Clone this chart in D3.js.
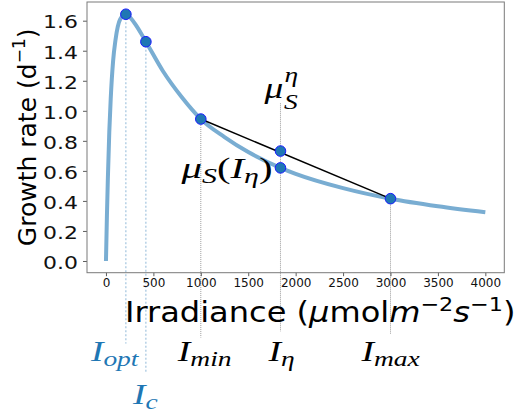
<!DOCTYPE html>
<html>
<head>
<meta charset="utf-8">
<script src="https://cdn.jsdelivr.net/npm/d3@7/dist/d3.min.js"></script>
<style>
  html, body { margin: 0; padding: 0; background: #fff; }
  svg { display: block; }
</style>
</head>
<body>
<svg id="chart" width="520" height="415"></svg>
<script>
// ---- data ----
const curveI  = [0, 10, 20, 35, 50, 75, 100, 150, 210, 300, 421, 600, 800, 1000, 1250, 1500, 1840, 2000, 2500, 3000, 3500, 4000];
const curveMu = [0, 0.30, 0.55, 0.86, 1.08, 1.33, 1.47, 1.61, 1.643, 1.585, 1.46, 1.265, 1.09, 0.945, 0.825, 0.725, 0.62, 0.58, 0.485, 0.415, 0.365, 0.325];

const markerI  = [210, 421, 1000, 1840, 1840, 3000];
const markerMu = [1.643, 1.46, 0.945, 0.62, 0.732, 0.415];

const chordI  = [1000, 3000];
const chordMu = [0.945, 0.415];

const guideI      = [210, 421, 1000, 1840, 3000];
const guideTop    = [1.643, 1.46, 0.945, 1.05, 0.415];
const guideBottom = [-0.55, -0.745, -0.51, -0.47, -0.49];
const guideBlue   = [true, true, false, false, false];

const xTicks = [0, 500, 1000, 1500, 2000, 2500, 3000, 3500, 4000];
const yTicks = [0.0, 0.2, 0.4, 0.6, 0.8, 1.0, 1.2, 1.4, 1.6];

// ---- layout ----
const svg = d3.select("#chart");
const L = 87, R = 504.3, T = 2, B = 272.7;
const xs = d3.scaleLinear().domain([-200, 4200]).range([L, R]);
const ys = d3.scaleLinear().domain([-0.078, 1.7245]).range([B, T]);

const C0 = "#1f77b4";
const sans = "DejaVu Sans";
const serif = "Liberation Serif";

// guides
svg.append("g").selectAll("line").data(guideI).join("line")
  .attr("x1", d => xs(d)).attr("x2", d => xs(d))
  .attr("y1", (d, i) => ys(guideTop[i])).attr("y2", (d, i) => ys(guideBottom[i]))
  .attr("stroke", (d, i) => guideBlue[i] ? "#8fb8d8" : "#9a9a9a")
  .attr("stroke-width", 1)
  .attr("stroke-dasharray", (d, i) => guideBlue[i] ? "2,2" : "1,1");

// axes
const xAxis = d3.axisBottom(xs).tickValues(xTicks).tickSize(3.5).tickPadding(2).tickFormat(d3.format("d"));
const gx = svg.append("g").attr("transform", `translate(0,${B})`).call(xAxis);
gx.select(".domain").remove();
gx.selectAll(".tick line").attr("stroke", "#333").attr("stroke-width", 0.8);
gx.selectAll(".tick text").attr("font-family", sans).attr("font-size", 12).attr("fill", "#111");

const yAxis = d3.axisLeft(ys).tickValues(yTicks).tickSize(4).tickPadding(0).tickFormat(d3.format(".1f"));
const gy = svg.append("g").attr("transform", `translate(${L},0)`).call(yAxis);
gy.select(".domain").remove();
gy.selectAll(".tick line").attr("stroke", "#333").attr("stroke-width", 0.8);
gy.selectAll(".tick text")
  .attr("font-family", sans).attr("font-size", 18).attr("fill", "#111")
  .attr("x", null).attr("dy", null)
  .attr("text-anchor", "end").attr("dominant-baseline", "central")
  .attr("transform", "translate(-9,1) scale(1.22,1)");

// frame
svg.append("rect").attr("x", L).attr("y", T).attr("width", R - L).attr("height", B - T)
  .attr("fill", "none").attr("stroke", "#7a7a7a").attr("stroke-width", 1);

// curve
const pts = curveI.map((d, i) => [d, curveMu[i]]);
svg.append("path").datum(pts)
  .attr("d", d3.line().x(d => xs(d[0])).y(d => ys(d[1])).curve(d3.curveMonotoneX))
  .attr("fill", "none").attr("stroke", "#79add2").attr("stroke-width", 4);

// chord
svg.append("line")
  .attr("x1", xs(chordI[0])).attr("y1", ys(chordMu[0]))
  .attr("x2", xs(chordI[1])).attr("y2", ys(chordMu[1]))
  .attr("stroke", "#000").attr("stroke-width", 1.5);

// markers
svg.append("g").selectAll("circle").data(markerI).join("circle")
  .attr("cx", d => xs(d)).attr("cy", (d, i) => ys(markerMu[i]))
  .attr("r", 5.3).attr("fill", C0).attr("stroke", "#1a1aff").attr("stroke-width", 1);

// axis labels
const xl = svg.append("text")
  .attr("font-family", sans).attr("font-size", 28).attr("fill", "#000")
  .attr("transform", "translate(125,322) scale(1.145,1)");
xl.append("tspan").text("Irradiance (");
xl.append("tspan").attr("font-style", "italic").text("μ");
xl.append("tspan").text("mol");
xl.append("tspan").attr("font-style", "italic").text("m");
xl.append("tspan").attr("font-size", 19.5).attr("dy", -11).text("−2");
xl.append("tspan").attr("font-style", "italic").attr("dy", 11).text("s");
xl.append("tspan").attr("font-size", 19.5).attr("dy", -11).text("−1");
xl.append("tspan").attr("dy", 11).text(")");

const yl = svg.append("text")
  .attr("font-family", sans).attr("font-size", 25).attr("fill", "#000")
  .attr("text-anchor", "middle")
  .attr("transform", `translate(36,${(T + B) / 2}) rotate(-90)`);
yl.append("tspan").text("Growth rate (d");
yl.append("tspan").attr("font-size", 17).attr("dy", -11).text("−1");
yl.append("tspan").attr("dy", 11).text(")");

// math annotations
const MAIN = 30, SUB = 22;
function mathLabel(x, y, parts, color, sx) {
  const s = sx || 1.25;
  const t = svg.append("text").attr("font-family", serif).attr("fill", color)
    .attr("transform", `translate(${x},${y}) scale(${s},1)`);
  let cur = 0;
  parts.forEach(p => {
    const shift = p.shift || 0;
    const ts = t.append("tspan")
      .attr("font-size", p.size || MAIN)
      .attr("font-style", p.upright ? "normal" : "italic")
      .attr("dy", shift - cur)
      .text(p.t);
    if (p.at !== undefined) ts.attr("x", p.at / s);
    cur = shift;
  });
}
mathLabel(xs(guideI[0]) - 35, 361, [{t: "I"}, {t: "opt", size: SUB, shift: 5}], C0);
mathLabel(xs(guideI[1]) - 13, 404, [{t: "I"}, {t: "c", size: SUB, shift: 5}], C0);
mathLabel(xs(guideI[2]) - 23, 361, [{t: "I"}, {t: "min", size: SUB, shift: 5}], "#000");
mathLabel(xs(guideI[3]) - 12, 361, [{t: "I"}, {t: "η", size: SUB, shift: 5}], "#000");
mathLabel(xs(guideI[4]) - 29, 361, [{t: "I"}, {t: "max", size: SUB, shift: 5}], "#000");

// mu_S^eta (stacked sub/superscript, one text element)
mathLabel(xs(markerI[4]) - 16, 98, [
  {t: "μ"},
  {t: "S", size: SUB, shift: 11, at: 19.5},
  {t: "η", size: SUB, shift: -16, at: 20}
], "#000");

// mu_S(I_eta)
mathLabel(xs(markerI[3]) - 99, 178, [{t: "μ"}, {t: "S", size: SUB, shift: 5}, {t: "(", upright: true}, {t: "I"}, {t: "η", size: SUB, shift: 5}, {t: ")", upright: true}], "#000", 1.36);
</script>
</body>
</html>
